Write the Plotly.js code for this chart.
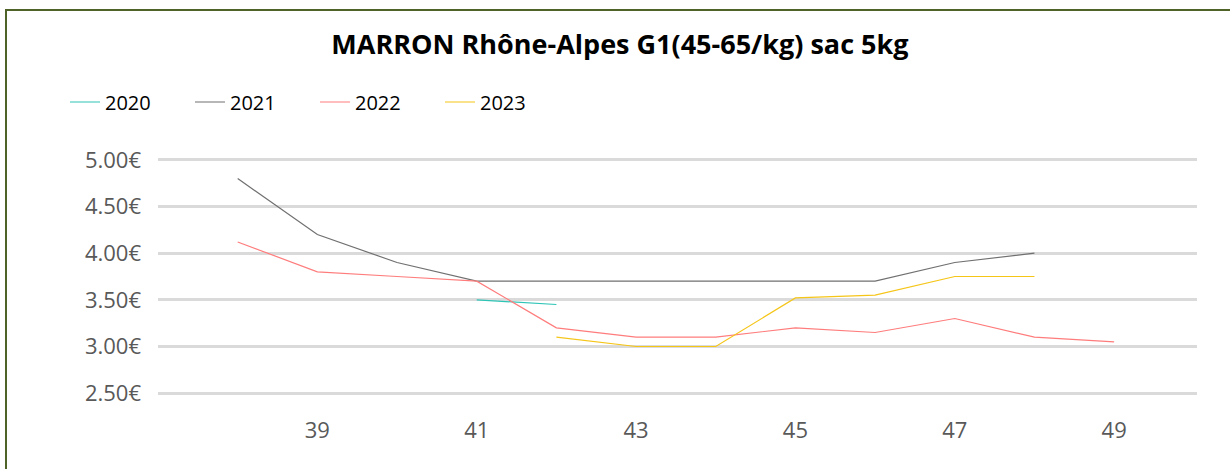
<!DOCTYPE html>
<html>
<head>
<meta charset="utf-8">
<script src="https://cdn.plot.ly/plotly-3.0.1.min.js"></script>
<style>
  html, body { margin: 0; padding: 0; background: #ffffff; }
  #wrap { position: relative; width: 1230px; height: 469px; overflow: hidden; }
  #chart { width: 1230px; height: 469px; }
  #frame { position: absolute; left: 5px; top: 9px; width: 1300px; height: 600px;
           border-top: 2px solid #4f6228; border-left: 2px solid #4f6228; pointer-events: none; }
</style>
</head>
<body>
<div id="wrap">
  <div id="chart"></div>
  <div id="frame"></div>
</div>
<script>
// Weeks (x categories)
const weeks2020 = [41, 42];
const values2020 = [3.50, 3.45];

const weeks2021 = [38, 39, 40, 41, 42, 43, 44, 45, 46, 47, 48];
const values2021 = [4.80, 4.20, 3.90, 3.70, 3.70, 3.70, 3.70, 3.70, 3.70, 3.90, 4.00];

const weeks2022 = [38, 39, 40, 41, 42, 43, 44, 45, 46, 47, 48, 49];
const values2022 = [4.12, 3.80, 3.75, 3.70, 3.20, 3.10, 3.10, 3.20, 3.15, 3.30, 3.10, 3.05];

const weeks2023 = [42, 43, 44, 45, 46, 47, 48];
const values2023 = [3.10, 3.00, 3.00, 3.52, 3.55, 3.75, 3.75];

const seriesNames = ['2020', '2021', '2022', '2023'];
const xTickVals = [39, 41, 43, 45, 47, 49];
const yTickVals = [2.5, 3.0, 3.5, 4.0, 4.5, 5.0];
const yTickText = ['2.50€', '3.00€', '3.50€', '4.00€', '4.50€', '5.00€'];

const colors = ['#2ec4b6', '#707070', '#ff7c7c', '#f5c518'];

const xs = [weeks2020, weeks2021, weeks2022, weeks2023];
const ys = [values2020, values2021, values2022, values2023];

const traces = seriesNames.map((name, i) => ({
  type: 'scatter',
  mode: 'lines',
  name: name,
  x: xs[i],
  y: ys[i],
  line: { color: colors[i], width: 1.2 },
  hoverinfo: 'x+y+name'
}));

const layout = {
  width: 1230,
  height: 469,
  paper_bgcolor: '#ffffff',
  plot_bgcolor: '#ffffff',
  margin: { l: 158, r: 33, t: 158, b: 74 },
  title: {
    text: '<b>MARRON Rhône-Alpes G1(45-65/kg) sac 5kg</b>',
    font: { family: 'Open Sans, Noto Sans, sans-serif', size: 27, color: '#000000' },
    x: 0.504, xanchor: 'center', xref: 'container',
    y: 1 - 45 / 469, yanchor: 'middle', yref: 'container'
  },
  showlegend: true,
  legend: {
    orientation: 'h',
    xref: 'container', yref: 'container',
    x: 65 / 1230, xanchor: 'left',
    y: 1 - 102 / 469, yanchor: 'middle',
    font: { family: 'Open Sans, sans-serif', size: 20, color: '#000000' },
    entrywidth: 80, entrywidthmode: 'pixels',
    bgcolor: 'rgba(0,0,0,0)'
  },
  xaxis: {
    range: [37, 50.04],
    tickvals: xTickVals,
    ticktext: xTickVals.map(String),
    showgrid: false,
    zeroline: false,
    showline: false,
    ticks: '',
    ticklabelstandoff: 20,
    tickfont: { family: 'Open Sans, sans-serif', size: 22, color: '#595959' },
    fixedrange: true
  },
  yaxis: {
    range: [2.48, 5.02],
    tickmode: 'array',
    tickvals: yTickVals,
    ticktext: yTickText,
    showgrid: true,
    gridcolor: '#dadada',
    gridwidth: 3,
    zeroline: false,
    showline: false,
    ticks: '',
    ticklabelstandoff: 16,
    tickfont: { family: 'Open Sans, sans-serif', size: 22, color: '#595959' },
    fixedrange: true
  }
};

Plotly.newPlot('chart', traces, layout, { displayModeBar: false });
</script>
</body>
</html>
